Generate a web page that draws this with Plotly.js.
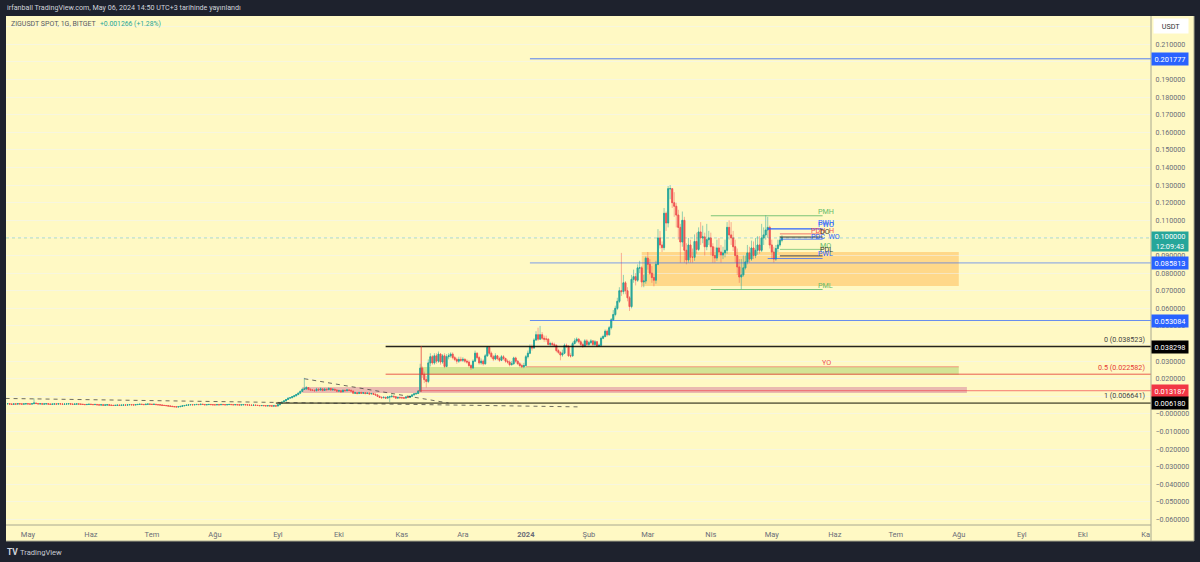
<!DOCTYPE html>
<html><head><meta charset="utf-8">
<script src="https://cdn.plot.ly/plotly-2.35.2.min.js"></script>
<style>html,body{margin:0;padding:0;background:#1e222d}#c{width:1200px;height:562px}</style></head>
<body><div id="c"></div>
<script>
// ---- daily candles ----
const firstDay = '2023-04-21';
const closePre = [.0058,.0056,.0055,.0057,.0056,.0058,.0057,.0056,.0057,.0058,
 .0057,.0056,.0058,.0062,.0059,.0057,.0058,.0056,.0057,.0058,.0056,.0055,.0056,.0057,.0056,.0058,.0057,.0055,.0056,.0057,.0058,.0056,.0055,.0056,.0057,.0056,.0055,.0054,.0053,.0054,.0055,
 .0054,.0053,.0054,.0052,.0051,.0052,.0050,.0051,.0052,.0050,.0049,.0048,.0049,.0050,.0049,.0050,.0051,.0050,.0052,.0053,.0052,.0051,.0053,.0054,.0055,.0054,.0053,.0055,.0056,.0055,
 .0054,.0055,.0053,.0052,.0051,.0049,.0048,.0047,.0045,.0044,.0042,.0041,.0040,.0041,.0043,.0046,.0048,.0050,.0052,.0053,.0052,.0053,.0054,.0053,.0055,.0054,.0052,.0053,.0054,.0053,.0052,
 .0052,.0053,.0052,.0054,.0053,.0052,.0053,.0054,.0053,.0052,.0053,.0052,.0051,.0052,.0053,.0052,.0051,.0050,.0049,.0050,.0049,.0048,.0047,.0048,.0047,.0046,.0047,.0046,.0045,.0046,.0045];
const highPre = [.0060,.0059,.0058,.0059,.0059,.0060,.0059,.0058,.0059,.0060,
 .0060,.0058,.0060,.0088,.0063,.0060,.0060,.0059,.0059,.0060,.0059,.0057,.0058,.0059,.0058,.0060,.0059,.0058,.0058,.0059,.0060,.0059,.0057,.0058,.0059,.0058,.0057,.0056,.0056,.0056,.0057,
 .0056,.0055,.0056,.0055,.0053,.0054,.0053,.0053,.0054,.0053,.0051,.0050,.0051,.0052,.0051,.0052,.0053,.0052,.0054,.0055,.0054,.0053,.0055,.0056,.0057,.0056,.0055,.0057,.0058,.0057,
 .0056,.0057,.0056,.0054,.0053,.0052,.0050,.0049,.0048,.0046,.0045,.0043,.0042,.0043,.0045,.0048,.0050,.0052,.0054,.0055,.0054,.0055,.0056,.0055,.0057,.0056,.0055,.0055,.0056,.0055,.0054,
 .0054,.0055,.0054,.0056,.0055,.0054,.0055,.0056,.0055,.0054,.0055,.0054,.0053,.0054,.0055,.0054,.0053,.0052,.0051,.0052,.0051,.0050,.0049,.0050,.0049,.0048,.0049,.0048,.0047,.0048,.0047];
const lowPre = [.0056,.0054,.0053,.0055,.0054,.0056,.0055,.0054,.0055,.0056,
 .0055,.0054,.0056,.0057,.0057,.0055,.0056,.0054,.0055,.0056,.0054,.0053,.0054,.0055,.0054,.0056,.0055,.0053,.0054,.0055,.0056,.0054,.0053,.0054,.0055,.0054,.0053,.0052,.0051,.0052,.0053,
 .0052,.0051,.0052,.0050,.0049,.0050,.0048,.0049,.0050,.0048,.0047,.0046,.0047,.0048,.0047,.0048,.0049,.0048,.0050,.0051,.0050,.0049,.0051,.0052,.0053,.0052,.0051,.0053,.0054,.0053,
 .0052,.0053,.0051,.0050,.0049,.0047,.0046,.0045,.0043,.0042,.0040,.0039,.0038,.0039,.0041,.0043,.0046,.0048,.0050,.0051,.0050,.0051,.0052,.0051,.0053,.0052,.0050,.0051,.0052,.0051,.0050,
 .0050,.0051,.0050,.0052,.0051,.0050,.0051,.0052,.0051,.0050,.0051,.0050,.0049,.0050,.0051,.0050,.0049,.0048,.0047,.0048,.0047,.0046,.0045,.0046,.0045,.0044,.0045,.0044,.0043,.0044,.0043];

const closeSep = [.0052,.0060,.0068,.0074,.0082,.0090,.0092,.0098,.0103,.0110,.0118,.0128,.0140,.0142,.0150,.0140,.0136,.0134,.0132,.0140,.0136,.0142,.0134,.0140,.0138,.0145,.0136,.0140,.0136,.0130];
const highSep = [.0054,.0063,.0071,.0077,.0085,.0093,.0096,.0101,.0107,.0114,.0122,.0133,.0145,.0205,.0158,.0152,.0145,.0141,.0140,.0148,.0146,.0150,.0146,.0148,.0146,.0152,.0148,.0146,.0144,.0140];
const lowSep  = [.0044,.0050,.0058,.0066,.0072,.0080,.0088,.0090,.0096,.0101,.0108,.0116,.0126,.0136,.0138,.0134,.0130,.0130,.0128,.0130,.0130,.0132,.0128,.0132,.0132,.0136,.0132,.0134,.0130,.0124];

const closeOct = [.0132,.0126,.0134,.0132,.0136,.0134,.0130,.0118,.0120,.0116,.0122,.0118,.0120,.0116,.0118,.0114,.0116,.0112,.0108,.0100,.0094,.0092,.0094,.0090,.0096,.0098,.0100,.0098,.0090,.0094,.0092];
const highOct = [.0138,.0136,.0140,.0138,.0142,.0140,.0138,.0132,.0126,.0124,.0126,.0126,.0124,.0124,.0122,.0122,.0120,.0120,.0116,.0112,.0104,.0100,.0100,.0098,.0102,.0104,.0112,.0106,.0102,.0098,.0098];
const lowOct  = [.0124,.0122,.0124,.0128,.0130,.0130,.0126,.0114,.0114,.0112,.0114,.0114,.0116,.0112,.0114,.0110,.0112,.0108,.0104,.0096,.0090,.0088,.0090,.0086,.0088,.0068,.0094,.0092,.0086,.0086,.0088];

const closeNov = [.0092,.0090,.0096,.0094,.0100,.0108,.0114,.0116,.0130,.0260,.0225,.0195,.0185,.0290,.0325,.0290,.0330,.0300,.0340,.0295,.0330,.0270,.0325,.0330,.0340,.0320,.0310,.0300,.0310,.0305];
const highNov = [.0098,.0096,.0100,.0100,.0104,.0112,.0118,.0122,.0136,.0285,.0270,.0240,.0215,.0310,.0345,.0335,.0345,.0345,.0355,.0345,.0340,.0345,.0340,.0345,.0350,.0350,.0330,.0320,.0325,.0325];
const lowNov  = [.0086,.0086,.0088,.0090,.0092,.0098,.0106,.0110,.0114,.0125,.0205,.0175,.0150,.0175,.0270,.0280,.0280,.0285,.0290,.0280,.0285,.0260,.0265,.0310,.0320,.0310,.0300,.0285,.0290,.0295];

const closeDec = [.0310,.0300,.0295,.0275,.0262,.0300,.0345,.0320,.0290,.0300,.0285,.0330,.0378,.0345,.0325,.0312,.0330,.0315,.0305,.0325,.0315,.0300,.0295,.0280,.0285,.0318,.0300,.0285,.0275,.0268,.0275];
const highDec = [.0322,.0316,.0310,.0305,.0285,.0310,.0360,.0350,.0330,.0315,.0310,.0340,.0385,.0385,.0355,.0335,.0345,.0335,.0325,.0335,.0335,.0320,.0310,.0305,.0300,.0325,.0325,.0305,.0295,.0285,.0290];
const lowDec  = [.0295,.0290,.0285,.0265,.0250,.0255,.0295,.0310,.0280,.0280,.0275,.0280,.0325,.0335,.0315,.0300,.0305,.0305,.0295,.0300,.0305,.0290,.0285,.0270,.0275,.0280,.0290,.0280,.0265,.0260,.0260];

const closeJan = [.0325,.0345,.0380,.0375,.0420,.0450,.0425,.0450,.0430,.0425,.0425,.0395,.0400,.0395,.0390,.0360,.0350,.0335,.0345,.0390,.0385,.0330,.0330,.0400,.0415,.0425,.0410,.0395,.0385,.0415,.0395];
const highJan = [.0335,.0360,.0395,.0395,.0430,.0470,.0490,.0500,.0465,.0445,.0445,.0430,.0410,.0410,.0405,.0395,.0370,.0355,.0365,.0400,.0400,.0390,.0345,.0410,.0430,.0435,.0430,.0420,.0405,.0425,.0425];
const lowJan  = [.0270,.0315,.0340,.0360,.0370,.0415,.0415,.0420,.0420,.0410,.0410,.0390,.0385,.0385,.0380,.0350,.0340,.0305,.0325,.0340,.0375,.0325,.0320,.0325,.0395,.0405,.0400,.0385,.0375,.0380,.0385];

const closeFeb = [.0405,.0415,.0395,.0410,.0385,.0390,.0430,.0440,.0470,.0450,.0490,.0535,.0565,.0600,.0640,.0700,.0695,.0745,.0700,.0660,.0610,.0765,.0780,.0760,.0830,.0830,.0750,.0755,.0885];
const highFeb = [.0415,.0425,.0420,.0420,.0415,.0400,.0440,.0450,.0480,.0480,.0500,.0545,.0590,.0615,.0660,.0720,.0915,.0790,.0755,.0720,.0670,.0790,.0820,.0800,.0850,.0870,.0840,.0790,.0895];
const lowFeb  = [.0385,.0395,.0385,.0385,.0380,.0380,.0385,.0425,.0435,.0440,.0445,.0480,.0530,.0555,.0590,.0630,.0670,.0680,.0680,.0640,.0585,.0600,.0745,.0730,.0750,.0800,.0720,.0720,.0740];

const closeMar = [.0850,.0800,.0775,.0760,.0850,.1000,.0960,.0945,.1140,.1085,.1280,.1280,.1200,.1180,.1130,.1060,.0977,.1100,.0930,.0875,.0960,.0890,.0890,.0980,.0935,.1034,.1000,.1006,.0950,.0990,.1000];
const highMar = [.0920,.0880,.0840,.0800,.0870,.1050,.1040,.0980,.1170,.1150,.1295,.1300,.1280,.1260,.1200,.1160,.1080,.1150,.1120,.0970,.1000,.0990,.0940,.1020,.1030,.1060,.1090,.1070,.1030,.1080,.1040];
const lowMar  = [.0820,.0790,.0745,.0725,.0740,.0845,.0940,.0920,.0930,.1040,.1060,.1220,.1170,.1120,.1060,.0990,.0860,.0950,.0860,.0850,.0860,.0860,.0860,.0870,.0910,.0925,.0960,.0970,.0900,.0930,.0960];

const closeApr = [.0950,.0900,.0886,.0943,.0920,.0903,.0915,.0930,.1060,.1017,.1000,.0950,.0900,.0835,.0778,.0790,.0830,.0864,.0915,.0880,.0943,.0900,.0930,.0960,.0930,.1000,.1017,.1045,.1060,.0960];
const highApr = [.1030,.0970,.0950,.0990,.1000,.0960,.0950,.0990,.1090,.1100,.1090,.1040,.0990,.0940,.0880,.0880,.0900,.0900,.0960,.0950,.0985,.0980,.1000,.1010,.1010,.1080,.1060,.1130,.1120,.1070];
const lowApr  = [.0900,.0860,.0860,.0870,.0895,.0860,.0880,.0890,.0910,.0990,.0960,.0925,.0860,.0790,.0745,.0707,.0780,.0820,.0850,.0860,.0870,.0880,.0885,.0905,.0910,.0920,.0960,.0990,.1000,.0940];

const closeMay = [.0920,.0880,.0940,.0960,.0987,.1000];
const highMay  = [.0990,.0950,.0960,.0990,.1010,.1015];
const lowMay   = [.0880,.0860,.0870,.0920,.0950,.0975];

const closes = [].concat(closePre,closeSep,closeOct,closeNov,closeDec,closeJan,closeFeb,closeMar,closeApr,closeMay);
const highs  = [].concat(highPre,highSep,highOct,highNov,highDec,highJan,highFeb,highMar,highApr,highMay);
const lows   = [].concat(lowPre,lowSep,lowOct,lowNov,lowDec,lowJan,lowFeb,lowMar,lowApr,lowMay);

// ---- axes ----
const xTickVals = ['2023-05-01','2023-06-01','2023-07-01','2023-08-01','2023-09-01','2023-10-01','2023-11-01','2023-12-01','2024-01-01','2024-02-01','2024-03-01','2024-04-01','2024-05-01','2024-06-01','2024-07-01','2024-08-01','2024-09-01','2024-10-01','2024-11-01'];
const xTickText = ['May','Haz','Tem','Ağu','Eyl','Eki','Kas','Ara','<b>2024</b>','Şub','Mar','Nis','May','Haz','Tem','Ağu','Eyl','Eki','Ka'];
const yTickVals = [.22,.21,.20,.19,.18,.17,.16,.15,.14,.13,.12,.11,.10,.09,.08,.07,.06,.05,.04,.03,.02,.01,0,-.01,-.02,-.03,-.04,-.05,-.06];
const yTickText = ['','0.210000','','0.190000','0.180000','0.170000','0.160000','0.150000','0.140000','0.130000','0.120000','0.110000','','0.090000','0.080000','0.070000','0.060000','0.050000','0.040000','0.030000','0.020000','0.010000','−0.000000','−0.010000','−0.020000','−0.030000','−0.040000','−0.050000','−0.060000'];
const xRange = ['2023-04-20 05:00','2024-11-03 14:00'];
const yRange = [-0.0631,0.2261];

// ---- drawings: [start, end, price, colour, width, dash, opacity] ----
const END = xRange[1];
const levelLines = [
 ['2024-01-03',END,.201777,'#2962ff',1,'solid',.8],
 ['2024-01-03',END,.085813,'#2962ff',1,'solid',.6],
 ['2024-01-03',END,.053084,'#2962ff',1,'solid',.7],
 ['2023-10-24',END,.038298,'#000000',1.6,'solid',.85],
 ['2023-10-24',END,.022582,'#e53935',1,'solid',.8],
 ['2023-11-09',END,.013187,'#f23645',1,'solid',.65],
 ['2023-08-31',END,.00618,'#4a4a30',1.8,'solid',.75],
 [xRange[0],END,.1,'#26a69a',1,'dot',.35],
 ['2024-04-01','2024-05-26',.1126,'#66bb6a',1,'solid',.85],
 ['2024-04-01','2024-05-26',.0707,'#66bb6a',1,'solid',.85],
 ['2024-04-29','2024-05-26',.1051,'#2962ff',1.2,'solid',1],
 ['2024-04-29','2024-05-26',.0883,'#2962ff',1,'solid',.7],
 ['2024-05-05','2024-05-26',.1023,'#ef5350',1,'solid',.8],
 ['2024-05-05','2024-05-26',.1005,'#000000',1,'solid',.8],
 ['2024-05-05','2024-05-26',.0993,'#2962ff',1,'solid',.8],
 ['2024-05-05','2024-05-26',.0935,'#66bb6a',1,'solid',.7],
 ['2024-05-05','2024-05-26',.0898,'#000000',1,'solid',.7],
 ['2024-01-01','2024-08-01',.0268,'#ef7f6a',1,'solid',.8]
];
// [x0, price0, x1, price1]
const dashedLines = [
 ['2023-04-20',.0088,'2024-01-28',.0040],
 ['2023-09-14',.0200,'2023-11-24',.0062]
];
// [x0, x1, top, bottom, colour]
const zones = [
 ['2024-02-27','2024-08-01',.0920,.0727,'rgba(255,183,77,0.50)'],
 ['2023-11-10','2024-08-01',.0267,.0222,'rgba(139,195,74,0.38)'],
 ['2023-09-13','2024-08-05',.0153,.0119,'rgba(185,40,130,0.30)']
];
const stemX = '2023-11-10 12:00', stemTop = .0385, stemBottom = .0125;
// [x, price, text, colour]
const levelTags = [
 ['2024-05-23',.1148,'PMH','#66bb6a'],['2024-05-23',.0727,'PML','#66bb6a'],
 ['2024-05-23',.1086,'PWH','#2962ff'],['2024-05-23',.1078,'PWO','#2962ff'],
 ['2024-05-20',.1040,'PDH  H','#ef5350'],['2024-05-24',.1036,'DO','#3a3a2a'],
 ['2024-05-20',.1011,'PDC  WO','#2962ff'],['2024-05-24',.0955,'MO','#66bb6a'],
 ['2024-05-24',.0932,'PDL','#3a3a2a'],['2024-05-23',.0909,'PWL','#2962ff'],
 ['2024-05-25',.0295,'YO','#ef5350']
];
// [price, label, colour]
const fibLabels = [[.038523,'0 (0.038523)','#444'],[.022582,'0.5 (0.022582)','#e53935'],[.006641,'1 (0.006641)','#444']];
// [price, label, colour]
const priceTags = [[.201777,'0.201777','#2962ff'],[.085813,'0.085813','#2962ff'],[.053084,'0.053084','#2962ff'],[.038298,'0.038298','#000000'],[.013187,'0.013187','#f23645'],[.00618,'0.006180','#000000']];

// ---- build ----
const CREAM='#fff9c4', DARK='#1e222d', FONT='Roboto, sans-serif';
const start = new Date(firstDay+'T00:00:00Z').getTime();
const dates = closes.map((_,i)=>new Date(start+i*864e5).toISOString().slice(0,10));
const opens = closes.map((c,i)=> i?closes[i-1]:c);
const bodyHigh = closes.map((c,i)=>Math.max(c,opens[i]));
const bodyLow  = closes.map((c,i)=>Math.min(c,opens[i]));
const px = x=>(x-6)/1145, py = y=>(525-y)/509;

const shapes=[];
shapes.push({type:'rect',xref:'paper',yref:'paper',x0:px(1151),x1:px(1194),y0:py(541),y1:py(16),fillcolor:CREAM,line:{width:0},layer:'below'});
shapes.push({type:'rect',xref:'paper',yref:'paper',x0:px(6),x1:px(1151),y0:py(541),y1:py(525),fillcolor:CREAM,line:{width:0},layer:'below'});
zones.forEach(z=>shapes.push({type:'rect',xref:'x',yref:'y',x0:z[0],x1:z[1],y0:z[3],y1:z[2],fillcolor:z[4],line:{width:0},layer:'below'}));
levelLines.forEach(l=>shapes.push({type:'line',xref:'x',yref:'y',x0:l[0],x1:l[1],y0:l[2],y1:l[2],opacity:l[6],line:{color:l[3],width:l[4],dash:l[5]},layer:'above'}));
dashedLines.forEach(l=>shapes.push({type:'line',xref:'x',yref:'y',x0:l[0],y0:l[1],x1:l[2],y1:l[3],opacity:.7,line:{color:'#333',width:1,dash:'4px,4px'},layer:'above'}));
shapes.push({type:'line',xref:'x',yref:'y',x0:stemX,x1:stemX,y0:stemBottom,y1:stemTop,opacity:.75,line:{color:'#e53935',width:1},layer:'above'});
[[1151,16,1151,541],[6,525,1151,525],[6,541,1194,541],[1194,16,1194,541]].forEach(s=>shapes.push({type:'line',xref:'paper',yref:'paper',x0:px(s[0]),y0:py(s[1]),x1:px(s[2]),y1:py(s[3]),line:{color:'#a8a890',width:1},layer:'above'}));

const ann=[];
const txt=(x,y,t,c,s,o)=>ann.push(Object.assign({xref:'paper',yref:'paper',x:px(x),y:py(y),text:t,showarrow:false,xanchor:'left',yanchor:'middle',borderpad:0,font:{family:FONT,size:s,color:c}},o||{}));
txt(6,8,'irfanball TradingView.com, May 06, 2024 14:50 UTC+3 tarihinde yayınlandı','#d1d4dc',7.15);
txt(10,24,'ZIGUSDT SPOT, 1G, BITGET','#555a66',7);
txt(99,24,'+0.001266 (+1.28%)','#26a69a',6.8);
txt(19,552,'TradingView','#c8cbd3',7.6);
txt(6,552,'<b>TV</b>','#d1d4dc',8.5);
levelTags.forEach(t=>ann.push({xref:'x',yref:'y',x:t[0],y:t[1],text:t[2],showarrow:false,xanchor:'left',yanchor:'middle',borderpad:0,font:{family:FONT,size:7.2,color:t[3]}}));
fibLabels.forEach(f=>ann.push({xref:'paper',yref:'y',x:px(1146),y:f[0],text:f[1],showarrow:false,xanchor:'right',yanchor:'bottom',yshift:1,borderpad:0,font:{family:FONT,size:7.2,color:f[2]}}));
priceTags.forEach(t=>ann.push({xref:'paper',yref:'y',x:px(1151),y:t[0],text:t[1],showarrow:false,xanchor:'left',yanchor:'middle',width:36,height:12,align:'center',bgcolor:t[2],borderpad:0,font:{family:FONT,size:7.4,color:'#ffffff'}}));
txt(1151,241,'0.100000<br>12:09:43','#ffffff',7.4,{bgcolor:'#26a69a',width:36,height:19,align:'center'});
txt(1153,26,'USDT','#333333',7.2,{bgcolor:'#ffffff',width:34,height:14,align:'center'});

const UP='#26a69a', DOWN='#ef5350';
Plotly.newPlot('c',[{
 // pale wicks
 type:'candlestick',x:dates,open:opens,high:highs,low:lows,close:closes,
 increasing:{line:{color:'rgba(38,166,154,0.5)',width:1},fillcolor:'rgba(0,0,0,0)'},
 decreasing:{line:{color:'rgba(239,83,80,0.45)',width:1},fillcolor:'rgba(0,0,0,0)'},
 whiskerwidth:0,hoverinfo:'none',showlegend:false
},{
 // solid bodies
 type:'candlestick',x:dates,open:opens,high:bodyHigh,low:bodyLow,close:closes,
 increasing:{line:{color:UP,width:.8},fillcolor:UP},
 decreasing:{line:{color:DOWN,width:.8},fillcolor:DOWN},
 whiskerwidth:0,hoverinfo:'none',showlegend:false
}],{
 width:1200,height:562,showlegend:false,
 paper_bgcolor:DARK,plot_bgcolor:CREAM,
 margin:{l:6,r:49,t:16,b:37,pad:0},
 font:{family:FONT},
 xaxis:{type:'date',range:xRange,rangeslider:{visible:false},showgrid:false,zeroline:false,showline:false,
  tickmode:'array',tickvals:xTickVals,ticktext:xTickText,ticks:'outside',ticklen:2,tickcolor:'rgba(0,0,0,0)',
  tickfont:{family:FONT,size:7.5,color:'#6a6d78'},tickangle:0},
 yaxis:{side:'right',range:yRange,showgrid:true,gridcolor:'rgba(240,243,250,0.5)',gridwidth:1,zeroline:false,showline:false,
  tickmode:'array',tickvals:yTickVals,ticktext:yTickText,ticks:'outside',ticklen:2,tickcolor:'rgba(0,0,0,0)',
  tickfont:{family:FONT,size:7.1,color:'#6a6d78'}},
 shapes:shapes,annotations:ann
},{displayModeBar:false,staticPlot:true});
</script></body></html>
